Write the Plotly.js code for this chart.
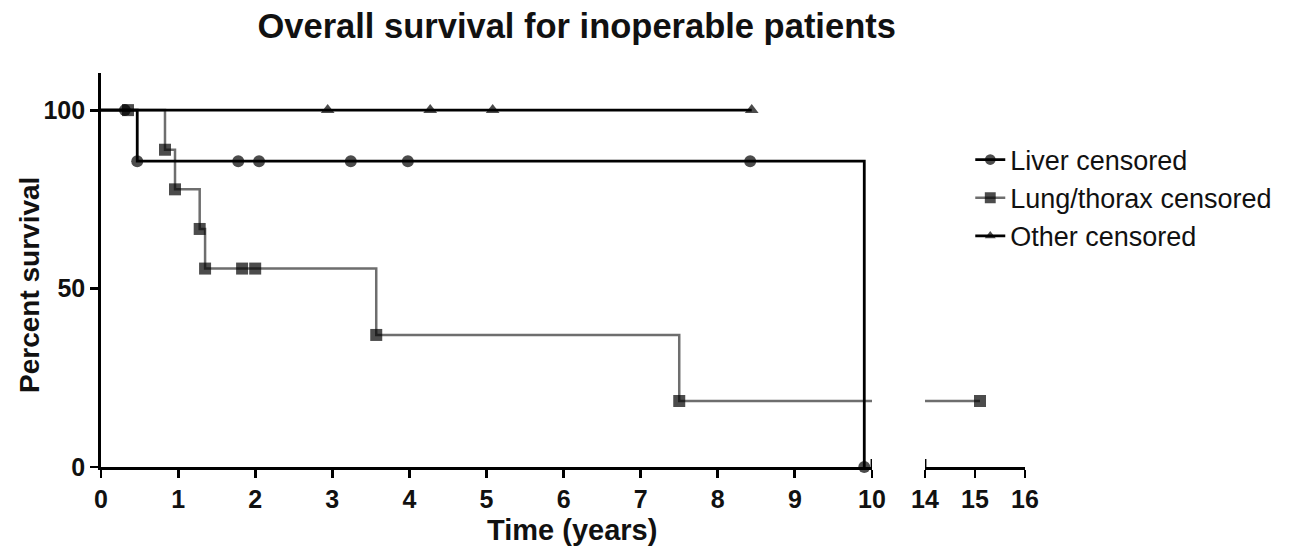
<!DOCTYPE html>
<html>
<head>
<meta charset="utf-8">
<script src="https://cdn.plot.ly/plotly-3.0.1.min.js"></script>
<style>html,body{margin:0;padding:0;background:#fff;}#chart{width:1293px;height:551px;}</style>
</head>
<body>
<div id="chart"></div>
<script>
// Data (time in years, percent survival)
const liverTime = [0, 0.31, 0.47, 1.78, 2.05, 3.24, 3.98, 8.42, 9.90];
const liverSurv = [100, 100, 85.7, 85.7, 85.7, 85.7, 85.7, 85.7, 0];
const liverMarked = [0, 1, 1, 1, 1, 1, 1, 1, 1];

const lungTime = [0, 0.35, 0.83, 0.96, 1.28, 1.35, 1.83, 2.00, 3.57, 7.50, 15.1];
const lungSurv = [100, 100, 88.9, 77.8, 66.7, 55.6, 55.6, 55.6, 37.0, 18.5, 18.5];
const lungMarked = [0, 1, 1, 1, 1, 1, 1, 1, 1, 1, 1];

const otherTime = [0, 2.94, 4.27, 5.08, 8.44];
const otherSurv = [100, 100, 100, 100, 100];
const otherMarked = [0, 1, 1, 1, 1];

const seriesNames = ["Liver censored", "Lung/thorax censored", "Other censored"];
const yTicks = [0, 50, 100];
const xTicks1 = [0, 1, 2, 3, 4, 5, 6, 7, 8, 9, 10];
const xTicks2 = [14, 15, 16];

const FONT = "Liberation Sans, Arial, sans-serif";
const sizes = (m, s) => m.map(v => v ? s : 0);

const traces = [
  {
    x: lungTime, y: lungSurv, xaxis: "x", yaxis: "y", name: seriesNames[1], legendrank: 2,
    mode: "lines+markers", line: {shape: "hv", color: "#6e6e6e", width: 2.5},
    marker: {symbol: "square", color: "#000", size: sizes(lungMarked, 12), line: {width: 0}}, cliponaxis: true
  },
  {
    x: lungTime, y: lungSurv, xaxis: "x2", yaxis: "y", name: seriesNames[1], showlegend: false,
    mode: "lines+markers", line: {shape: "hv", color: "#6e6e6e", width: 2.5},
    marker: {symbol: "square", color: "#000", size: sizes(lungMarked, 12), line: {width: 0}}, cliponaxis: true
  },
  {
    x: liverTime, y: liverSurv, xaxis: "x", yaxis: "y", name: seriesNames[0], legendrank: 1,
    mode: "lines+markers", line: {shape: "hv", color: "#000", width: 2.8},
    marker: {symbol: "circle", color: "#000", size: sizes(liverMarked, 12), line: {width: 0}}, cliponaxis: false
  },
  {
    x: otherTime, y: otherSurv, xaxis: "x", yaxis: "y", name: seriesNames[2], legendrank: 3,
    mode: "lines+markers", line: {shape: "hv", color: "#000", width: 2.8},
    marker: {symbol: "triangle-up", color: "#000", size: sizes(otherMarked, 12), line: {width: 0}}, cliponaxis: false
  }
];

const axisCommon = {
  showline: true, linecolor: "#000", linewidth: 2.8, showgrid: false, zeroline: false,
  ticks: "outside", tickcolor: "#000", tickwidth: 2.8, ticklen: 8,
  tickfont: {family: FONT, size: 25, color: "#111", weight: "bold"}, fixedrange: true
};

const layout = {
  width: 1293, height: 551,
  paper_bgcolor: "#fff", plot_bgcolor: "#fff",
  margin: {l: 101, r: 268, t: 73, b: 84, autoexpand: false},
  font: {family: FONT, color: "#111"},
  title: {
    text: "<b>Overall survival for inoperable patients</b>",
    font: {family: FONT, size: 34.5, color: "#111"},
    x: 0.446, xref: "container", xanchor: "center",
    y: 0.953, yref: "container", yanchor: "middle"
  },
  xaxis: Object.assign({}, axisCommon, {
    domain: [0, 0.8344], range: [0, 10], tickvals: xTicks1, ticktext: xTicks1.map(String),
    anchor: "y"
  }),
  xaxis2: Object.assign({}, axisCommon, {
    domain: [0.8918, 1], range: [14, 16], tickvals: xTicks2, ticktext: xTicks2.map(String),
    anchor: "y"
  }),
  yaxis: Object.assign({}, axisCommon, {
    range: [0, 110.4], tickvals: yTicks, ticktext: yTicks.map(String), ticklen: 8
  }),
  annotations: [
    {text: "<b>Time (years)</b>", xref: "paper", yref: "paper", x: 0.5097, y: -0.16,
     xanchor: "center", yanchor: "middle", showarrow: false,
     font: {family: FONT, size: 29, color: "#111"}},
    {text: "<b>Percent survival</b>", xref: "paper", yref: "paper", x: -0.0768, y: 0.462,
     xanchor: "center", yanchor: "middle", showarrow: false, textangle: -90,
     font: {family: FONT, size: 28, color: "#111"}}
  ],
  shapes: [
    {type: "line", xref: "x", yref: "paper", x0: 10, x1: 10, y0: 0, y1: 0.02, line: {color: "#000", width: 2.8}},
    {type: "line", xref: "x2", yref: "paper", x0: 14, x1: 14, y0: 0, y1: 0.02, line: {color: "#000", width: 2.8}}
  ],
  legend: {
    x: 0.7504, xref: "container", y: 0.754, yref: "container", yanchor: "top", xanchor: "left",
    font: {family: FONT, size: 27, color: "#111"}, bgcolor: "rgba(0,0,0,0)",
    tracegroupgap: 0, itemwidth: 30
  },
  showlegend: true
};

Plotly.newPlot("chart", traces, layout, {staticPlot: true, displayModeBar: false});
</script>
</body>
</html>
